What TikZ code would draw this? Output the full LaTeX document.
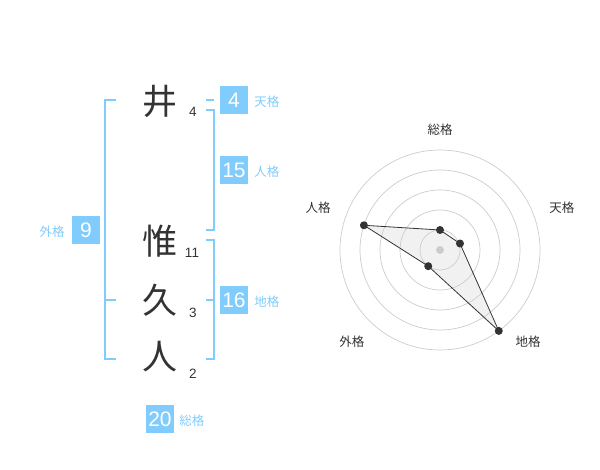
\documentclass[tikz,border=0pt]{standalone}
\usepackage{fontspec}
\newfontfamily\jpfont{Noto Sans CJK JP}
\newfontfamily\numfont{Liberation Sans}
\usetikzlibrary{positioning}
\definecolor{kaku}{RGB}{128,204,252}
\definecolor{ink}{RGB}{51,51,51}
\tikzset{
  kanji/.style={font=\jpfont\fontsize{35}{35}\selectfont, text=ink, inner sep=0},
  strokes/.style={font=\numfont\fontsize{13.5}{13.5}\selectfont, text=ink, inner sep=0},
  kakubox/.style={fill=kaku, text=white, font=\numfont\fontsize{21}{21}\selectfont,
    minimum width=28, minimum height=28, inner sep=0},
  kakuname/.style={font=\jpfont\fontsize{12.5}{12.5}\selectfont, text=kaku, inner sep=0},
  bracket/.style={draw=kaku, line width=1.6},
  axisname/.style={font=\jpfont\fontsize{12.5}{12.5}\selectfont, text=ink, inner sep=0},
  ring/.style={draw=black!20, line width=0.7},
  dot/.style={circle, fill=ink, inner sep=0, minimum size=8},
}
\begin{document}
\begin{tikzpicture}[x=1pt,y=-1pt]
\useasboundingbox (0,0) rectangle (600,470);
% name, character by character
\node[kanji] (c1) at (160,101) {井};
\node[strokes] (s1) at (193,112) {4};
\node[kanji] (c2) at (160,241) {惟};
\node[strokes] (s2) at (192,253) {11};
\node[kanji] (c3) at (160,300) {久};
\node[strokes] (s3) at (193,313) {3};
\node[kanji] (c4) at (160,357) {人};
\node[strokes] (s4) at (193,374) {2};
% brackets
\draw[bracket] (116,100) -- (105,100) -- (105,359) -- (116,359);
\draw[bracket] (105,300) -- (116,300);
\draw[bracket] (206,100) -- (214,100);
\draw[bracket] (206,110) -- (214,110) -- (214,230) -- (206,230);
\draw[bracket] (206,240) -- (214,240) -- (214,359) -- (206,359);
\draw[bracket] (206,300) -- (214,300);
% the five kaku
\node[kakubox] (ten) at (234,100) {4};
\node[kakuname, right=6 of ten, yshift=-2] (tenname) {天格};
\node[kakubox] (jin) at (234,170) {15};
\node[kakuname, right=6 of jin, yshift=-2] (jinname) {人格};
\node[kakubox] (chi) at (234,300) {16};
\node[kakuname, right=6 of chi, yshift=-2] (chiname) {地格};
\node[kakubox] (gai) at (86,230) {9};
\node[kakuname, left=7 of gai, yshift=-2] (gainame) {外格};
\node[kakubox] (sou) at (160,419) {20};
\node[kakuname, right=5 of sou, yshift=-2] (souname) {総格};
% radar
\begin{scope}[shift={(440,250)},yscale=-1]
\coordinate (ctr) at (0,0);
\coordinate (psou) at (90:20);
\coordinate (pten) at (18:21);
\coordinate (pchi) at (-54:100);
\coordinate (pgai) at (-126:20);
\coordinate (pjin) at (162:80);
\fill[black!6, opacity=0.9] (psou) -- (pten) -- (pchi) -- (pgai) -- (pjin) -- cycle;
\foreach \r in {20,40,...,100}
  \draw[ring] (ctr) circle (\r);
\fill[black!20] (ctr) circle (4);
\draw[ink, line width=0.8] (psou) -- (pten) -- (pchi) -- (pgai) -- (pjin) -- cycle;
\foreach \p in {psou,pten,pchi,pgai,pjin}
  \node[dot] at (\p) {};
\node[axisname] (asou) at (90:120) {総格};
\node[axisname] (aten) at (19:129) {天格};
\node[axisname] (ajin) at (161:129) {人格};
\node[axisname] (agai) at (-134:127) {外格};
\node[axisname] (achi) at (-46:127) {地格};
\end{scope}
\end{tikzpicture}
\end{document}
